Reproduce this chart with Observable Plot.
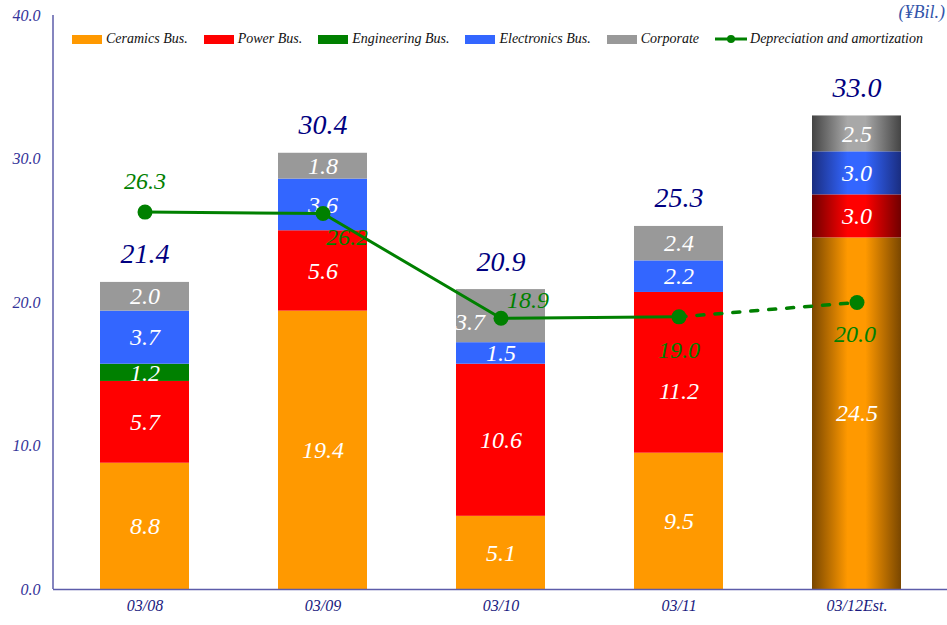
<!DOCTYPE html>
<html><head><meta charset="utf-8">
<script src="https://cdn.jsdelivr.net/npm/d3@7"></script>
<script src="https://cdn.jsdelivr.net/npm/@observablehq/plot@0.6"></script>
<style>
body{margin:0;background:#fff;}
#wrap{position:relative;width:947px;height:625px;font-family:"Liberation Serif","Times New Roman",serif;font-style:italic;}
#legend{position:absolute;left:72px;top:31px;display:flex;align-items:center;font-size:14px;color:#111;white-space:nowrap;}
#legend .item{display:flex;align-items:center;margin-right:16px;}
#legend .sw{width:30px;height:9px;margin-right:4px;}
#legend .ln{position:relative;width:32px;height:12px;margin-right:3px;}
#unit{position:absolute;right:2px;top:2px;font-size:18px;color:#3355aa;}
</style></head><body><div id="wrap"></div>
<script>
const years = ["03/08","03/09","03/10","03/11","03/12Est."];
const segments = ["Ceramics Bus.","Power Bus.","Engineering Bus.","Electronics Bus.","Corporate"];
const ceramics = [8.8,19.4,5.1,9.5,24.5];
const power = [5.7,5.6,10.6,11.2,3.0];
const engineering = [1.2,0,0,0,0];
const electronics = [3.7,3.6,1.5,2.2,3.0];
const corporate = [2.0,1.8,3.7,2.4,2.5];
const totals = [21.4,30.4,20.9,25.3,33.0];
const depreciation = [26.3,26.2,18.9,19.0,20.0];
const depName = "Depreciation and amortization";
const yTicks = [0,10,20,30,40];
const unitLabel = "(¥Bil.)";

const colors = ["#ff9900","#ff0000","#008000","#3366ff","#999999"];
const gradStops = [["#7a4700","#ff9900"],["#700000","#ff0000"],["#0a4a0a","#008000"],["#1a2d80","#3366ff"],["#444444","#a8a8a8"]];
const seriesVals = [ceramics,power,engineering,electronics,corporate];
const estIndex = years.length - 1;

const rows = [];
years.forEach((yr,i)=>{
  let cum = 0;
  seriesVals.forEach((arr,k)=>{
    const v = arr[i];
    if (v > 0) {
      rows.push({year:yr, seg:k, v, y1:cum, y2:cum+v, mid:cum+v/2, est:i===estIndex});
      cum += v;
    }
  });
});
const fillFor = d => d.est ? `url(#grad${d.seg})` : colors[d.seg];
const depRows = years.map((yr,i)=>({year:yr, v:depreciation[i]}));
const totRows = years.map((yr,i)=>({year:yr, v:totals[i]}));
// label nudges (segment labels moved off the depreciation line/labels)
const nudges = [
  {year: years[2], seg: 4, dx: -31, dy: 6},
  {year: years[3], seg: 1, dx: 0, dy: 18}
];
const nudgeOf = d => nudges.find(n => n.year === d.year && n.seg === d.seg);
const depOffsets = [[0,-31],[24,24],[27,-18],[0,33],[-2,32]];
const green = "#008000";
const font = "'Liberation Serif','Times New Roman',serif";
const segText = d => d.v.toFixed(1);

const chart = Plot.plot({
  width: 947, height: 625,
  marginLeft: 53, marginRight: 0, marginTop: 15, marginBottom: 36,
  style: {fontFamily: font, fontStyle: "italic", background: "white"},
  x: {type: "band", domain: years, paddingInner: 0.5, paddingOuter: 0.25, label: null},
  y: {domain: [0,40], label: null},
  color: {type: "identity"},
  marks: [
    Plot.axisY({ticks: yTicks, tickFormat: d => d.toFixed(1), tickSize: 0, tickPadding: 13, fontSize: 16, color: "#333399", label: null}),
    Plot.axisX({tickSize: 0, tickPadding: 10, fontSize: 16, color: "#1a1a80", label: null}),
    Plot.barY(rows, {x: "year", y1: "y1", y2: "y2", fill: fillFor}),
    Plot.ruleY([0], {stroke: "#5c5caa", strokeWidth: 1.5}),
    Plot.text(rows.filter(d => !nudgeOf(d)), {x: "year", y: "mid", text: segText, fill: "white", fontSize: 24}),
    ...nudges.map(n => Plot.text(rows.filter(d => nudgeOf(d) === n), {x: "year", y: "mid", text: segText, fill: "white", fontSize: 24, dx: n.dx, dy: n.dy})),
    Plot.text(totRows, {x: "year", y: "v", text: d => d.v.toFixed(1), fill: "#000080", fontSize: 28, dy: -28}),
    Plot.line(depRows.slice(0, estIndex), {x: "year", y: "v", stroke: green, strokeWidth: 3}),
    Plot.line(depRows.slice(estIndex-1), {x: "year", y: "v", stroke: green, strokeWidth: 3.5, strokeDasharray: "7,11"}),
    Plot.dot(depRows, {x: "year", y: "v", r: 7.5, fill: green, stroke: "none"}),
    ...depRows.map((d,i) => Plot.text([d], {x: "year", y: "v", text: r => r.v.toFixed(1), fill: green, fontSize: 24, dx: depOffsets[i][0], dy: depOffsets[i][1]}))
  ]
});

// gradient definitions for the estimated bar
const svg = d3.select(chart);
const defs = svg.insert("defs", ":first-child");
gradStops.forEach((s,k)=>{
  const g = defs.append("linearGradient").attr("id", `grad${k}`).attr("x1","0").attr("x2","1").attr("y1","0").attr("y2","0");
  g.append("stop").attr("offset","0").attr("stop-color", s[0]);
  g.append("stop").attr("offset","0.4").attr("stop-color", s[1]);
  g.append("stop").attr("offset","0.6").attr("stop-color", s[1]);
  g.append("stop").attr("offset","1").attr("stop-color", s[0]);
});
// left axis line
const ys = chart.scale("y");
svg.append("line").attr("x1",53).attr("x2",53).attr("y1",ys.apply(40)).attr("y2",ys.apply(0))
  .attr("stroke","#5c5caa").attr("stroke-width",1.5);

const wrap = document.getElementById("wrap");
wrap.appendChild(chart);

// legend
const legend = document.createElement("div");
legend.id = "legend";
segments.forEach((s,k)=>{
  const it = document.createElement("div"); it.className = "item";
  it.innerHTML = `<div class="sw" style="background:${colors[k]}"></div><span>${s}</span>`;
  legend.appendChild(it);
});
const li = document.createElement("div"); li.className = "item";
li.innerHTML = `<svg class="ln" width="32" height="12"><line x1="0" x2="32" y1="6" y2="6" stroke="${green}" stroke-width="3"/><circle cx="16" cy="6" r="4" fill="${green}"/></svg><span>${depName}</span>`;
legend.appendChild(li);
wrap.appendChild(legend);

const unit = document.createElement("div");
unit.id = "unit"; unit.textContent = unitLabel;
wrap.appendChild(unit);
</script>
</body></html>
